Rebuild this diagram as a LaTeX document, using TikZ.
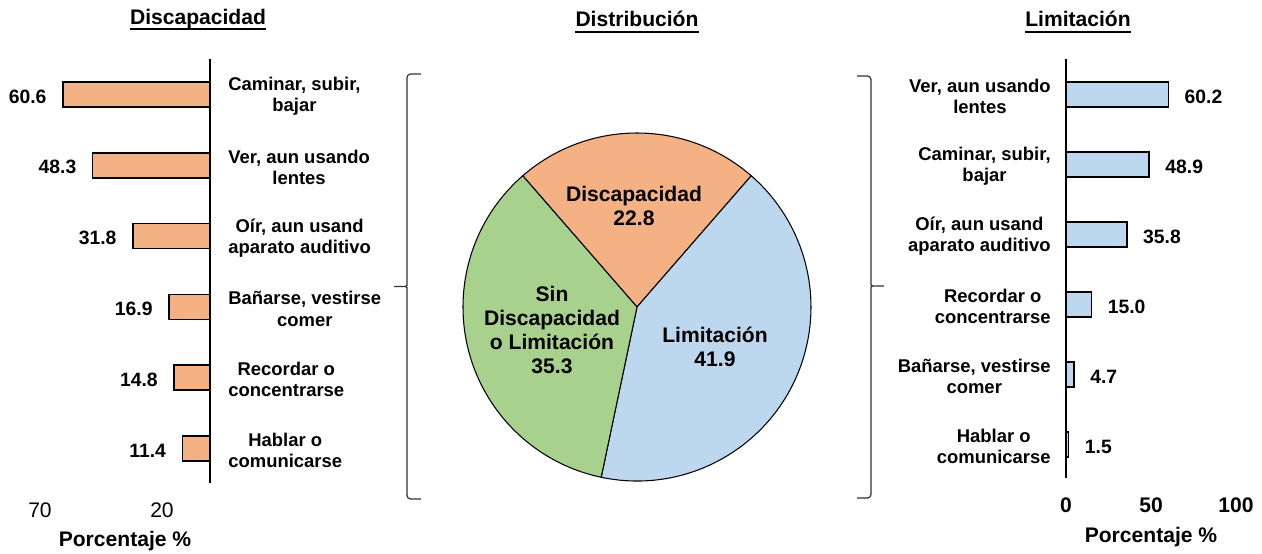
\documentclass[tikz,border=0pt]{standalone}
\usepackage{fontspec}
\setmainfont{Liberation Sans}
\definecolor{discol}{HTML}{F4B183}
\definecolor{limcol}{HTML}{BDD7EE}
\definecolor{sincol}{HTML}{A9D18E}
\begin{document}
\begin{tikzpicture}[x=0.02cm,y=-0.02cm]
\tikzstyle{barD}=[draw=black,fill=discol,line width=0.9pt]
\tikzstyle{barL}=[draw=black,fill=limcol,line width=0.9pt]
\tikzstyle{axis}=[draw=black,line width=0.9pt]
\tikzstyle{val}=[inner sep=0pt,font=\fontsize{11}{13}\selectfont\bfseries]
\tikzstyle{cat}=[inner sep=0pt,align=center,font=\fontsize{10.5}{12}\selectfont\bfseries]
\tikzstyle{title}=[inner sep=0pt,font=\fontsize{12}{14}\selectfont\bfseries]
\tikzstyle{uline}=[draw=black,line width=1.1pt]
\tikzstyle{slice}=[draw=black,line width=0.6pt]
\tikzstyle{pielabel}=[inner sep=0pt,align=center,font=\fontsize{12}{13.8}\selectfont\bfseries]
\tikzstyle{brc}=[draw=black!80,line width=0.7pt,rounded corners=2pt]

\useasboundingbox (0,0) rectangle (1262,554);

\node[title] (titleDis) at (198,19) {Discapacidad};
\node[title] (titleDist) at (637,19) {Distribución};
\node[title] (titleLim) at (1078,19) {Limitación};
\draw[uline] ([yshift=-2.8pt]titleDis.base west) -- ([yshift=-2.8pt]titleDis.base east);
\draw[uline] ([yshift=-2.8pt]titleDist.base west) -- ([yshift=-2.8pt]titleDist.base east);
\draw[uline] ([yshift=-2.8pt]titleLim.base west) -- ([yshift=-2.8pt]titleLim.base east);

%left chart: discapacidad
\coordinate (axDtop) at (210,59);
\coordinate (axDbot) at (210,483);
\draw[axis] (axDtop) -- (axDbot);

\draw[barD] ({210-60.6*2.43},82) rectangle (210,107);
\draw[barD] ({210-48.3*2.43},152.8) rectangle (210,177.8);
\draw[barD] ({210-31.8*2.43},223.6) rectangle (210,248.6);
\draw[barD] ({210-16.9*2.43},294.4) rectangle (210,319.4);
\draw[barD] ({210-14.8*2.43},365.2) rectangle (210,390.2);
\draw[barD] ({210-11.4*2.43},436) rectangle (210,461);

\node[val,anchor=east] (vCaminarD) at ({194-60.6*2.43},96.5) {60.6};
\node[val,anchor=east] (vVerD) at ({194-48.3*2.43},167.3) {48.3};
\node[val,anchor=east] (vOirD) at ({194-31.8*2.43},238.1) {31.8};
\node[val,anchor=east] (vBanarD) at ({194-16.9*2.43},308.9) {16.9};
\node[val,anchor=east] (vRecordarD) at ({194-14.8*2.43},379.7) {14.8};
\node[val,anchor=east] (vHablarD) at ({194-11.4*2.43},450.5) {11.4};

\node[cat,anchor=west] (cCaminarD) at (228,96.5) {Caminar, subir,\\bajar};
\node[cat,anchor=west] (cVerD) at (228,167.3) {Ver, aun usando\\lentes};
\node[cat,anchor=west] (cOirD) at (228,238.1) {Oír, aun usand\\aparato auditivo};
\node[cat,anchor=west] (cBanarD) at (228,308.9) {Bañarse, vestirse\\comer};
\node[cat,anchor=west] (cRecordarD) at (228,379.7) {Recordar o\\concentrarse};
\node[cat,anchor=west] (cHablarD) at (228,450.5) {Hablar o\\comunicarse};

\node[inner sep=0pt,font=\fontsize{12}{14}\selectfont] (tick70) at (40,510) {70};
\node[inner sep=0pt,font=\fontsize{12}{14}\selectfont] (tick20) at (162,510) {20};
\node[title] (xlabD) at (125,541) {Porcentaje \%};

%braces
\coordinate (brcLtop) at (421,74);
\coordinate (brcLtip) at (392,286.5);
\coordinate (brcLbot) at (421,499);
\draw[brc] (brcLtop) -| (407,282) .. controls (407,286.5) .. (brcLtip) .. controls (407,286.5) .. (407,291) |- (brcLbot);
\coordinate (brcRtop) at (857,76);
\coordinate (brcRtip) at (886,286);
\coordinate (brcRbot) at (857,498);
\draw[brc] (brcRtop) -| (871,281.5) .. controls (871,286) .. (brcRtip) .. controls (871,286) .. (871,290.5) |- (brcRbot);

%pie: distribucion
\begin{scope}[shift={(637,307)},y=0.02cm]
\filldraw[slice,fill=discol] (0,0) -- (48.96:174) arc[start angle=48.96,end angle=131.04,radius=174] -- cycle;
\filldraw[slice,fill=limcol] (0,0) -- (-101.88:174) arc[start angle=-101.88,end angle=48.96,radius=174] -- cycle;
\filldraw[slice,fill=sincol] (0,0) -- (131.04:174) arc[start angle=131.04,end angle=258.12,radius=174] -- cycle;
\end{scope}

\node[pielabel] (pDis) at (634,206) {Discapacidad\\22.8};
\node[pielabel] (pSin) at (552,330) {Sin\\Discapacidad\\o Limitación\\35.3};
\node[pielabel] (pLim) at (715,347) {Limitación\\41.9};

%right chart: limitacion
\coordinate (axLtop) at (1066,59);
\coordinate (axLbot) at (1066,478);
\draw[axis] (axLtop) -- (axLbot);

\draw[barL] (1066,82) rectangle ({1066+60.2*1.7},107);
\draw[barL] (1066,152) rectangle ({1066+48.9*1.7},177);
\draw[barL] (1066,222) rectangle ({1066+35.8*1.7},247);
\draw[barL] (1066,292) rectangle ({1066+15.0*1.7},317);
\draw[barL] (1066,362) rectangle ({1066+4.7*1.7},387);
\draw[barL] (1066,432) rectangle ({1066+1.5*1.7},457);

\node[val,anchor=west] (vVerL) at ({1082+60.2*1.7},96.5) {60.2};
\node[val,anchor=west] (vCaminarL) at ({1082+48.9*1.7},166.5) {48.9};
\node[val,anchor=west] (vOirL) at ({1082+35.8*1.7},236.5) {35.8};
\node[val,anchor=west] (vRecordarL) at ({1082+15.0*1.7},306.5) {15.0};
\node[val,anchor=west] (vBanarL) at ({1082+4.7*1.7},376.5) {4.7};
\node[val,anchor=west] (vHablarL) at ({1082+1.5*1.7},446.5) {1.5};

\node[cat,anchor=east] (cVerL) at (1051,96.5) {Ver, aun usando\\lentes};
\node[cat,anchor=east] (cCaminarL) at (1051,166.5) {Caminar, subir,\\bajar};
\node[cat,anchor=east] (cOirL) at (1051,236.5) {Oír, aun usand\\aparato auditivo};
\node[cat,anchor=east] (cRecordarL) at (1051,306.5) {Recordar o\\concentrarse};
\node[cat,anchor=east] (cBanarL) at (1051,376.5) {Bañarse, vestirse\\comer};
\node[cat,anchor=east] (cHablarL) at (1051,446.5) {Hablar o\\comunicarse};

\node[title] (tick0) at (1066,505) {0};
\node[title] (tick50) at (1151,505) {50};
\node[title] (tick100) at (1236,505) {100};
\node[title] (xlabL) at (1151,537) {Porcentaje \%};

\end{tikzpicture}
\end{document}
